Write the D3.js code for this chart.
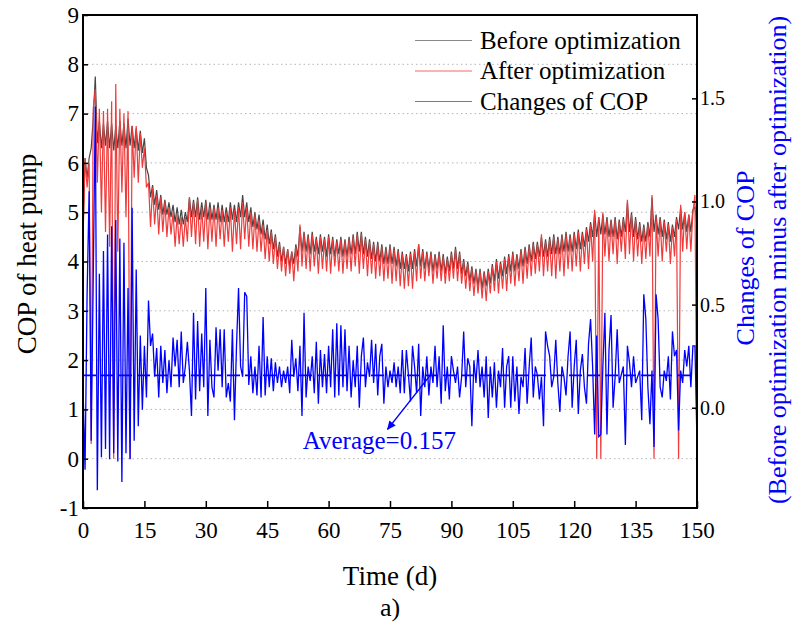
<!DOCTYPE html>
<html><head><meta charset="utf-8">
<script src="https://cdn.jsdelivr.net/npm/d3@7"></script>
<style>
body{margin:0;background:#fff}
text{font-family:"Liberation Serif","Times New Roman",serif}
</style>
</head><body>
<svg id="c" width="792" height="631"></svg>
<script>
// ---------- DATA ----------
// time step between samples (days)
const timeStep = 0.5;
// COP before optimization (left axis), sampled every 0.5 d from day 0 to day 150
const beforeCOP = [
4.6,6.1,5.7,6.1,6.3,6.9,7.75,6.4,6.85,6.3,
6.8,6.35,6.85,6.3,6.8,6.25,6.75,6.3,6.85,6.35,
6.8,6.3,6.9,6.35,6.75,6.3,6.7,6.25,6.65,6.2,
6.5,5.9,5.75,5.3,5.55,5.15,5.45,5.05,5.35,4.95,
5.25,4.95,5.2,4.9,5.15,4.8,5.1,4.75,5.05,4.75,
5.0,4.8,5.3,4.9,5.25,4.9,5.3,4.85,5.2,4.9,
5.25,4.85,5.2,4.85,5.15,4.85,5.2,4.8,5.15,4.8,
5.1,4.8,5.2,4.85,5.15,4.8,5.2,4.9,5.35,4.9,
5.2,4.8,5.1,4.7,5.0,4.65,4.95,4.55,4.85,4.45,
4.75,4.35,4.65,4.25,4.55,4.1,4.4,4.0,4.3,3.95,
4.25,3.9,4.2,3.95,4.35,4.1,4.7,4.2,4.6,4.2,
4.55,4.15,4.6,4.2,4.5,4.15,4.55,4.2,4.5,4.1,
4.55,4.15,4.5,4.1,4.45,4.15,4.5,4.1,4.45,4.1,
4.5,4.15,4.55,4.15,4.6,4.2,4.6,4.15,4.5,4.1,
4.45,4.05,4.4,4.0,4.4,4.0,4.35,3.95,4.3,3.95,
4.35,3.95,4.3,3.9,4.25,3.85,4.2,3.85,4.15,3.8,
4.2,3.85,4.25,3.9,4.35,3.9,4.25,3.85,4.2,3.85,
4.2,3.8,4.15,3.85,4.2,3.8,4.15,3.75,4.1,3.8,
4.2,3.85,4.3,3.85,4.2,3.75,4.05,3.7,4.0,3.6,
3.9,3.55,3.85,3.5,3.85,3.45,3.8,3.5,3.85,3.55,
3.95,3.6,4.05,3.65,4.0,3.7,4.1,3.75,4.15,3.8,
4.2,3.8,4.15,3.85,4.25,3.9,4.3,3.95,4.35,4.0,
4.4,4.05,4.4,4.1,4.5,4.1,4.45,4.1,4.5,4.15,
4.55,4.15,4.5,4.15,4.55,4.2,4.6,4.2,4.55,4.2,
4.6,4.25,4.65,4.25,4.6,4.3,4.7,4.4,4.8,4.5,
5.0,4.5,4.9,4.55,4.95,4.55,4.9,4.5,4.85,4.5,
4.9,4.45,4.85,4.5,4.9,4.6,5.2,4.6,5.0,4.5,
4.9,4.45,4.8,4.4,4.75,4.4,4.8,4.5,5.3,4.6,
4.95,4.55,4.9,4.5,4.85,4.45,4.8,4.4,4.75,4.5,
4.9,4.65,5.1,4.65,5.0,4.6,4.95,4.6,5.05,5.1,
4.7];
// COP after optimization (left axis)
const afterCOP = [
4.4,6.1,5.5,6.0,0.3,7.1,7.5,5.6,7.1,5.0,
7.05,4.6,7.1,4.3,7.25,0.0,7.6,4.2,7.1,5.4,
7.0,4.9,7.05,0.0,6.75,5.7,6.75,5.6,6.6,5.9,
6.3,5.5,5.6,4.7,5.5,4.75,5.35,4.55,5.3,4.6,
5.2,4.5,5.1,4.55,5.0,4.3,4.95,4.35,4.9,4.3,
4.9,4.4,5.3,4.5,5.2,4.35,5.25,4.3,5.1,4.4,
5.2,4.25,5.1,4.4,5.1,4.3,5.1,4.45,5.05,4.3,
5.0,4.4,5.1,4.2,5.05,4.35,5.1,4.25,5.2,4.45,
5.1,4.3,5.0,4.25,4.95,4.2,4.85,4.2,4.75,4.05,
4.65,4.0,4.6,3.95,4.5,3.85,4.35,3.8,4.3,3.7,
4.25,3.75,4.2,3.6,4.3,3.8,4.75,3.9,4.55,3.85,
4.5,3.8,4.55,3.9,4.45,3.75,4.5,3.85,4.45,3.8,
4.5,3.75,4.45,3.9,4.4,3.8,4.45,3.75,4.4,3.85,
4.45,3.8,4.5,3.9,4.55,3.75,4.55,3.85,4.45,3.7,
4.4,3.75,4.35,3.65,4.35,3.7,4.3,3.6,4.25,3.65,
4.3,3.55,4.25,3.6,4.2,3.5,4.15,3.45,4.1,3.5,
4.15,3.45,4.2,3.6,4.35,3.65,4.2,3.6,4.15,3.7,
4.15,3.55,4.1,3.65,4.15,3.6,4.1,3.55,4.05,3.6,
4.15,3.65,4.25,3.6,4.15,3.55,4.0,3.45,3.95,3.4,
3.85,3.3,3.8,3.35,3.8,3.25,3.75,3.2,3.8,3.35,
3.9,3.4,4.0,3.35,3.95,3.45,4.05,3.4,4.1,3.55,
4.15,3.5,4.1,3.6,4.2,3.55,4.25,3.65,4.3,3.7,
4.35,3.75,4.35,3.8,4.55,3.7,4.4,3.8,4.45,3.7,
4.5,3.65,4.45,3.8,4.5,3.7,4.55,3.85,4.5,3.8,
4.55,3.9,4.6,3.8,4.55,3.95,4.65,3.85,4.75,4.0,
5.05,0.0,4.9,0.0,5.0,4.1,4.85,4.0,4.8,4.15,
4.85,3.95,4.8,4.2,4.85,4.05,5.25,4.15,4.95,4.0,
4.85,4.1,4.75,3.95,4.7,4.05,4.75,4.1,5.35,0.0,
4.9,4.1,4.85,4.0,4.8,4.2,4.75,3.95,4.7,4.1,
4.85,0.0,5.15,4.2,5.0,4.25,4.95,4.2,5.0,5.35,
0.0];
// Changes of COP = before minus after (right axis)
const changeCOP = [
0.1,-0.3,0.55,1.05,-0.16,0.63,1.46,-0.4,0.65,-0.24,
0.76,-0.2,0.84,-0.25,0.88,-0.22,0.91,-0.26,0.82,-0.36,
0.8,-0.22,0.58,-0.25,0.97,-0.16,0.67,-0.09,0.35,-0.01,
0.3,0.05,0.52,0.3,0.36,0.15,0.29,0.05,0.3,0.12,
0.28,0.07,0.23,0.1,0.34,0.2,0.33,0.1,0.37,0.12,
0.2,0.32,0.18,-0.04,0.46,0.04,0.42,0.08,0.36,0.1,
0.58,-0.04,0.33,0.1,0.05,0.39,0.18,0.38,0.1,0.38,
0.05,0.12,0.03,0.38,-0.06,0.3,0.58,0.2,0.15,0.56,
0.54,0.11,0.25,0.07,0.2,0.06,0.3,0.05,0.44,0.06,
0.25,0.1,0.24,0.08,0.22,0.12,0.2,0.1,0.18,0.12,
0.2,0.07,0.33,0.15,0.24,0.08,0.3,-0.04,0.46,0.05,
0.2,0.13,0.25,0.07,0.32,0.02,0.28,0.1,0.26,0.07,
0.3,0.1,0.38,0.05,0.41,0.06,0.4,0.1,0.38,0.08,
0.3,0.05,0.23,0.1,0.3,0.0,0.25,0.34,0.1,0.22,
0.15,0.33,0.12,0.31,0.06,0.25,0.31,0.02,0.2,0.1,
0.18,0.12,0.22,0.1,0.2,0.07,0.28,0.07,0.28,0.16,
0.03,0.3,0.2,0.07,0.31,-0.04,0.2,0.1,0.25,0.06,
0.2,0.12,0.3,0.1,0.25,0.02,0.4,0.08,0.2,0.04,
0.25,0.18,0.12,0.2,0.05,0.15,0.37,0.1,0.24,0.2,
-0.09,0.23,0.12,0.28,0.1,0.2,0.05,0.25,-0.05,0.2,
0.05,0.22,0.0,0.18,0.1,0.29,0.0,0.2,0.25,0.0,
0.25,0.03,0.2,-0.03,0.15,0.1,0.29,0.02,0.2,0.34,
0.05,0.2,0.16,0.04,0.15,-0.09,0.37,0.3,0.25,0.1,
0.15,0.33,0.12,-0.02,0.2,0.15,0.06,0.25,0.37,0.0,
0.2,0.33,-0.03,0.18,0.26,0.1,0.02,0.31,0.43,0.2,
-0.13,0.35,-0.14,-0.13,0.2,0.46,-0.13,0.28,0.45,0.0,
0.15,0.38,0.12,0.16,0.2,-0.18,0.3,0.22,0.1,0.25,
0.12,0.15,0.18,-0.06,0.55,0.43,0.1,-0.08,0.18,-0.19,
0.55,0.43,0.1,0.05,0.18,0.13,0.25,0.04,0.37,0.25,
0.28,-0.11,0.18,0.12,0.28,0.2,0.3,0.1,0.3,0.3,
-0.17];
const averageChange = 0.157;
const seriesNames = ["Before optimization","After optimization","Changes of COP"];
const seriesColors = ["#454545","#ef3b3b","#0000ff"];
const legendColors = ["#8a8a8a","#f26a6a","#6a6aff"];
const xTicks = [0,15,30,45,60,75,90,105,120,135,150];
const yLeftTicks = [-1,0,1,2,3,4,5,6,7,8,9];
const yRightTicks = [0.0,0.5,1.0,1.5];
const gridValues = [0,1,2,3,4,5,6,7,8];
const xDomain = [0,150];
const yLeftDomain = [-1,9];
const yRightDomain = [-0.486,1.904];
// annotation: arrow from (day, change) to (day, change); label anchor
const arrowFrom = [84.8, 0.157];
const arrowTo = [74.4, -0.105];
const labelAt = [53.7, -0.2];
const labelText = "Average=0.157";

// ---------- CHART ----------
const SERIF = '"Liberation Serif","Times New Roman",serif';
const svg = d3.select("#c");
const L=83, R=697, T=15, B=508;
const x = d3.scaleLinear().domain(xDomain).range([L,R]);
const yL = d3.scaleLinear().domain(yLeftDomain).range([B,T]);
const yR = d3.scaleLinear().domain(yRightDomain).range([B,T]);

svg.append("defs").append("clipPath").attr("id","clip")
  .append("rect").attr("x",L).attr("y",T).attr("width",R-L).attr("height",B-T);
const mk = svg.select("defs").append("marker").attr("id","arr")
  .attr("viewBox","0 0 10 10").attr("refX",9).attr("refY",5)
  .attr("markerWidth",10).attr("markerHeight",9).attr("markerUnits","userSpaceOnUse")
  .attr("orient","auto");
mk.append("path").attr("d","M0,0.5 L10,5 L0,9.5 Z").attr("fill","#0000ff");

// grid
svg.append("g").selectAll("line").data(gridValues).join("line")
  .attr("x1",L).attr("x2",R).attr("y1",d=>yL(d)).attr("y2",d=>yL(d))
  .attr("stroke","#b4b4b4").attr("stroke-width",1).attr("stroke-dasharray","1.5,3");

const plot = svg.append("g").attr("clip-path","url(#clip)");
const lineL = d3.line().x((d,i)=>x(i*timeStep)).y(d=>yL(d));
const lineR = d3.line().x((d,i)=>x(i*timeStep)).y(d=>yR(d));

plot.append("path").datum(beforeCOP).attr("d",lineL)
  .attr("fill","none").attr("stroke",seriesColors[0]).attr("stroke-width",1.2);
plot.append("path").datum(afterCOP).attr("d",lineL)
  .attr("fill","none").attr("stroke",seriesColors[1]).attr("stroke-width",1.2);
plot.append("path").datum(changeCOP).attr("d",lineR)
  .attr("fill","none").attr("stroke",seriesColors[2]).attr("stroke-width",1.3);
plot.append("line").attr("x1",x(xDomain[0])).attr("x2",x(xDomain[1]))
  .attr("y1",yR(averageChange)).attr("y2",yR(averageChange))
  .attr("stroke","#0000ff").attr("stroke-width",1.8).attr("stroke-dasharray","13,5");

// arrow + label
svg.append("line").attr("x1",x(arrowFrom[0])).attr("y1",yR(arrowFrom[1]))
  .attr("x2",x(arrowTo[0])).attr("y2",yR(arrowTo[1]))
  .attr("stroke","#0000ff").attr("stroke-width",1.5).attr("marker-end","url(#arr)");
svg.append("text").attr("x",x(labelAt[0])).attr("y",yR(labelAt[1]))
  .attr("fill","#0000ff").attr("font-size",25).style("font-family",SERIF).text(labelText);

// axes
const fmtInt = d => String(d);
const fmt1 = d => d.toFixed(1);
const ax = svg.append("g").attr("transform",`translate(0,${B})`)
  .call(d3.axisBottom(x).tickValues(xTicks).tickSizeInner(-7).tickSizeOuter(0).tickPadding(14).tickFormat(fmtInt));
const ayl = svg.append("g").attr("transform",`translate(${L},0)`)
  .call(d3.axisLeft(yL).tickValues(yLeftTicks).tickSizeInner(-5).tickSizeOuter(0).tickPadding(4).tickFormat(fmtInt));
const ayr = svg.append("g").attr("transform",`translate(${R},0)`)
  .call(d3.axisRight(yR).tickValues(yRightTicks).tickSizeInner(-5).tickSizeOuter(0).tickPadding(3).tickFormat(fmt1));
[ax,ayl,ayr].forEach(g=>{
  g.attr("font-family",null);
  g.select(".domain").remove();
  g.selectAll(".tick line").attr("stroke","#000").attr("stroke-width",1.5);
  g.selectAll(".tick text").attr("fill","#000").style("font-family",SERIF);
});
ax.selectAll(".tick text").style("font-size","23px");
ayl.selectAll(".tick text").style("font-size","23px");
ayr.selectAll(".tick text").style("font-size","20px");

// frame
svg.append("rect").attr("x",L).attr("y",T).attr("width",R-L).attr("height",B-T)
  .attr("fill","none").attr("stroke","#000").attr("stroke-width",2);

// titles
svg.append("text").attr("transform","translate(27,254) rotate(-90)")
  .attr("text-anchor","middle").attr("dominant-baseline","central")
  .attr("font-size",27).attr("fill","#000").text("COP of heat pump");
svg.append("text").attr("x",390).attr("y",585).attr("text-anchor","middle")
  .attr("font-size",27).attr("fill","#000").text("Time (d)");
svg.append("text").attr("x",390).attr("y",616).attr("text-anchor","middle")
  .attr("font-size",26).attr("fill","#000").text("a)");
svg.append("text").attr("transform","translate(745,258) rotate(-90)")
  .attr("text-anchor","middle").attr("dominant-baseline","central")
  .attr("font-size",26).attr("fill","#0000ff").text("Changes of COP");
svg.append("text").attr("transform","translate(777,260) rotate(-90)")
  .attr("text-anchor","middle").attr("dominant-baseline","central")
  .attr("font-size",26).attr("fill","#0000ff").text("(Before optimization minus after optimization)");

// legend
const lg = svg.append("g");
seriesNames.forEach((name,i)=>{
  const yy = 40.5 + i*30.5;
  lg.append("line").attr("x1",415).attr("x2",472).attr("y1",yy).attr("y2",yy)
    .attr("stroke",legendColors[i]).attr("stroke-width",1.2);
  lg.append("text").attr("x",480).attr("y",yy+8).attr("font-size",25).attr("fill","#000").text(name);
});
</script>
</body></html>
